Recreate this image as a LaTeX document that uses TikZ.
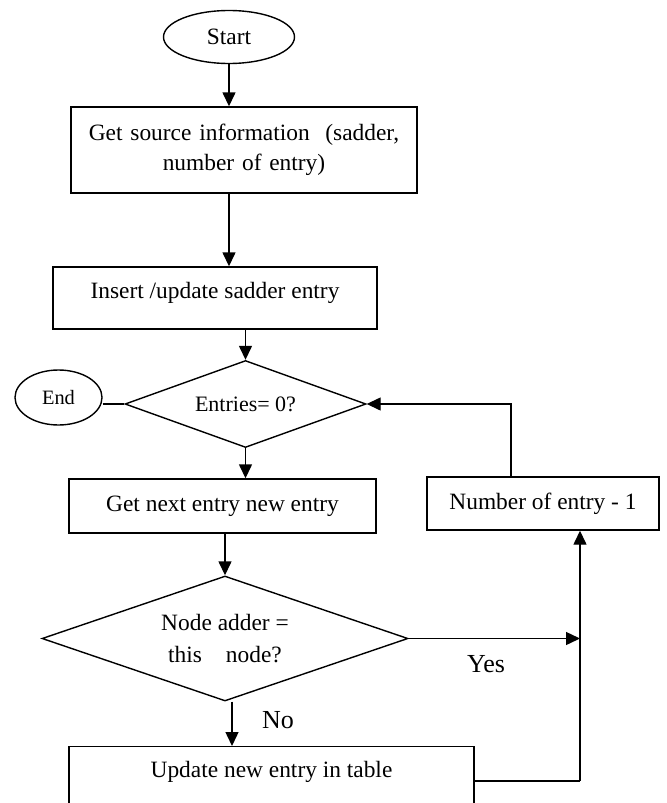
\documentclass[tikz,border=0pt]{standalone}
\usepackage{fontspec}
\setmainfont{Liberation Serif}
\usetikzlibrary{shapes.geometric,arrows.meta}

\begin{document}
\begin{tikzpicture}[x=0.5pt,y=-0.5pt,line width=0.7pt,>={Triangle[length=7pt,width=6.5pt]},every node/.style={font=\fontsize{11.7}{15}\selectfont}]
\tikzstyle{process} = [draw,rectangle,inner sep=0pt]
\tikzstyle{decision} = [draw,diamond,inner sep=0pt,aspect=2.8]
\tikzstyle{terminal} = [draw,ellipse,inner sep=0pt]
\tikzstyle{answer} = [font=\fontsize{13}{15}\selectfont]

\useasboundingbox (0,0) rectangle (666,803);
\clip (0,0) rectangle (666,803);

\node [terminal,minimum width=65.5pt,minimum height=26.5pt] (v1) at (229,37) {Start};
\node [process,minimum width=173pt,minimum height=43pt,text width=165pt,align=center] (v2) at (244,150) {Get source information\ \ (sadder,\\ number of entry)};
\node [process,minimum width=162pt,minimum height=31pt,text height=8pt,text depth=8pt] (v3) at (215,298) {Insert /update sadder entry};
\node [decision,minimum width=120.5pt,minimum height=43.5pt,font=\fontsize{11}{13}\selectfont] (v4) at (245.5,404) {Entries= 0?};
\node [terminal,minimum width=43.5pt,minimum height=27.5pt,font=\fontsize{10.2}{12}\selectfont] (v5) at (58.5,397.5) {End};
\node [process,minimum width=153.5pt,minimum height=27pt] (v6) at (222.5,506) {Get next entry new entry};
\node [decision,minimum width=183pt,minimum height=62.5pt,align=center,font=\fontsize{11.7}{16}\selectfont] (v7) at (225,638.5) {Node adder =\\this\hspace{12pt}node?};
\node [process,minimum width=116pt,minimum height=26.5pt] (v8) at (543,503.5) {Number of entry - 1};
\node [process,anchor=north,minimum width=202.5pt,text height=8pt,text depth=40pt,inner ysep=7.5pt] (v9) at (271.5,746) {Update new entry in table};
\node [answer] (v10) at (486,664) {Yes};
\node [answer] (v11) at (278,720) {No};
\coordinate (c1) at (580,781);

\draw [->] (v1.south) -- (v1.south |- v2.north);
\draw [->] (v1 |- v2.south) -- (v1 |- v3.north);
\draw [->] (v4 |- v3.south) -- (v4.north);
\draw (v5.east |- v4.west) -- (v4.west);
\draw [->] (v4.south) -- (v4 |- v6.north);
\draw [->] (v7 |- v6.south) -- (v7.north);
\draw [->] (v7.east) -- (v7.east -| c1);
\draw [->] ([xshift=-16pt]v8.north) |- (v4.east);
\draw [->] ([xshift=3.5pt]v7.south) -- ([xshift=3.5pt]v7.south |- v9.north);
\draw (c1 -| v9.east) -- (c1);
\draw [->] (c1) -- (c1 |- v8.south);
\end{tikzpicture}
\end{document}
